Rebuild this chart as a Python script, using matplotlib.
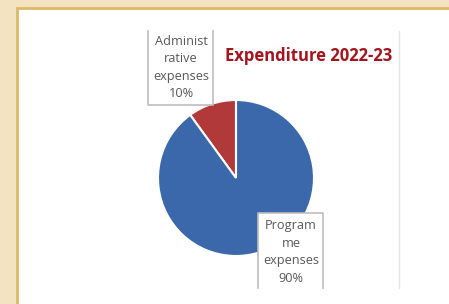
import matplotlib.pyplot as plt
from matplotlib.patches import Rectangle
from matplotlib.lines import Line2D

# data
labels = ["Administ\nrative\nexpenses\n10%", "Program\nme\nexpenses\n90%"]
shares = [10, 90]
colors = ["#B2393A", "#3B68AB"]
title = "Expenditure 2022-23"

W, H = 449, 304
fig = plt.figure(figsize=(W / 100, H / 100), dpi=100)
fig.patch.set_facecolor("#F4E3C1")


def fx(px):
    return px / W


def fy(py):
    return 1 - py / H


# white panel with gold border (behind everything)
fig.add_artist(Rectangle((fx(17), -0.1), 1, fy(8) + 0.1, transform=fig.transFigure,
                         facecolor="white", edgecolor="#DDB868", lw=2, zorder=-5))

# faint chart area edge on the right
fig.add_artist(Line2D([fx(399), fx(399)], [fy(31), fy(288)], transform=fig.transFigure,
                      color="#E4E4E4", lw=1))

# pie
cx, cy, r = 236, 178, 78
ax = fig.add_axes([fx(cx - r), fy(cy + r), 2 * r / W, 2 * r / H])
ax.pie(shares, colors=colors, startangle=90, counterclock=True,
       wedgeprops=dict(edgecolor="white", linewidth=1.5))
ax.set_xlim(-1, 1)
ax.set_ylim(-1, 1)
ax.set_aspect("auto")
ax.axis("off")

# title
fig.text(fx(309), fy(56), title, ha="center", va="center", color="#A3151E",
         fontsize=12, fontweight="bold", family="Open Sans")


def label_box(x0, x1, y0, y1, open_side):
    fig.add_artist(Rectangle((fx(x0), fy(y1)), fx(x1 - x0), (y1 - y0) / H,
                             transform=fig.transFigure, facecolor="white",
                             edgecolor="none", zorder=1.5))
    pts = {"top": [(x0, y0), (x0, y1), (x1, y1), (x1, y0)],
           "bottom": [(x0, y1), (x0, y0), (x1, y0), (x1, y1)]}[open_side]
    xs = [fx(p[0]) for p in pts]
    ys = [fy(p[1]) for p in pts]
    fig.add_artist(Line2D(xs, ys, transform=fig.transFigure, color="#BDBDBD",
                          lw=1.2, zorder=2))


label_box(148, 213, 31, 105, "top")
label_box(258, 323, 213, 288, "bottom")

fig.text(fx(181), fy(67.5), labels[0], ha="center", va="center", color="#595959",
         fontsize=9.2, linespacing=1.45, family="Open Sans", zorder=3)
fig.text(fx(291), fy(252), labels[1], ha="center", va="center", color="#595959",
         fontsize=9.2, linespacing=1.45, family="Open Sans", zorder=3)

fig.savefig("out.png", dpi=100, facecolor=fig.get_facecolor())
